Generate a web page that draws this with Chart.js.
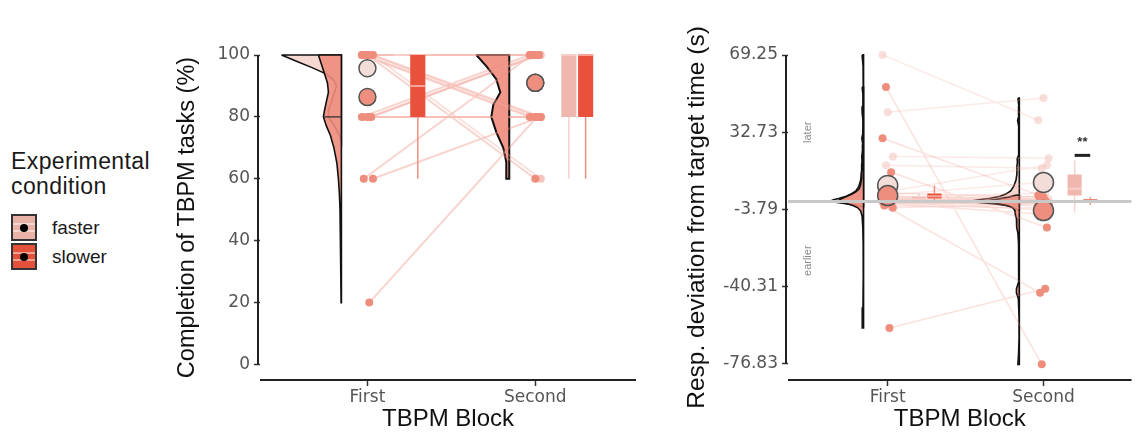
<!DOCTYPE html>
<html>
<head>
<meta charset="utf-8">
<title>TBPM raincloud</title>
<script src="https://cdn.jsdelivr.net/npm/chart.js@4.4.1/dist/chart.umd.min.js"></script>
<style>
  body { margin: 0; background: #fff; font-family: "Liberation Sans", Arial, sans-serif; }
  #page { position: relative; width: 1143px; height: 434px; overflow: hidden; }
  #compBox { position: absolute; left: 170px; top: 0; }
  #devBox { position: absolute; left: 680px; top: 0; }
  #legend { position: absolute; left: 11px; top: 149px; color: #1a1a1a; }
  #legend .title { font-size: 23px; letter-spacing: 0.4px; line-height: 25px; margin-bottom: 14px; }
  #legend .row { display: flex; align-items: center; height: 29px; font-size: 19px; }
  #legend .key { position: relative; box-sizing: border-box; width: 26px; height: 27px; border: 2px solid #333; margin-right: 15px; }
  #legend .key.faster { background-color: #e9b2a8;
      background-image: linear-gradient(to bottom, transparent 30%, #f5d5cf 30%, #f5d5cf 38%, transparent 38%, transparent 62%, #f5d5cf 62%, #f5d5cf 70%, transparent 70%); }
  #legend .key.slower { background-color: #e5503b;
      background-image: linear-gradient(to bottom, transparent 30%, #f1a194 30%, #f1a194 38%, transparent 38%, transparent 62%, #f1a194 62%, #f1a194 70%, transparent 70%); }
  #legend .key::after { content: ""; position: absolute; left: 50%; top: 50%; width: 8px; height: 8px; margin: -4px 0 0 -4px; border-radius: 50%; background: #000; }
</style>
</head>
<body>
<div id="page">
  <div id="legend">
    <div class="title">Experimental<br>condition</div>
    <div class="row"><span class="key faster"></span>faster</div>
    <div class="row"><span class="key slower"></span>slower</div>
  </div>
  <div id="compBox"><canvas id="compChart" width="480" height="434"></canvas></div>
  <div id="devBox"><canvas id="devChart" width="463" height="434"></canvas></div>
</div>
<script>
// ---------------- data ----------------
const blocks = ['First', 'Second'];
const compTicks = [0, 20, 40, 60, 80, 100];
const devTicks = [-76.83, -40.31, -3.79, 32.73, 69.25];

// Left panel: completion of TBPM tasks (%), one value per participant
const compFasterFirst  = [100, 100, 100, 100, 100, 100, 100, 100, 100, 100, 100, 80, 80, 80];
const compFasterSecond = [100, 100, 100, 80, 100, 100, 80, 100, 100, 60, 100, 100, 80, 100];
const compSlowerFirst  = [100, 100, 100, 100, 100, 100, 100, 100, 80, 80, 80, 60, 60, 20];
const compSlowerSecond = [100, 80, 100, 60, 100, 80, 100, 100, 100, 100, 80, 100, 80, 80];

// group means (big circles)
const compMeanFaster = [95.7, 91.0];
const compMeanSlower = [86.4, 91.0];

// boxplot statistics per block
const compLoFaster  = [100, 60];
const compQ1Faster  = [100, 80];
const compMedFaster = [100, 100];
const compQ3Faster  = [100, 100];
const compHiFaster  = [100, 100];
const compLoSlower  = [60, 60];
const compQ1Slower  = [80, 80];
const compMedSlower = [90, 100];
const compQ3Slower  = [100, 100];
const compHiSlower  = [100, 100];

// half violins: levels and estimated densities
const compVioLevelsF1 = [100, 98, 96, 94, 92, 90, 88, 86, 84, 82, 80, 78, 76, 74, 72];
const compVioDensF1   = [6.0, 4.5, 3.0, 1.6, 0.8, 0.5, 0.7, 0.9, 1.1, 1.3, 1.3, 0.9, 0.5, 0.2, 0];
const compVioLevelsS1 = [100, 97, 94, 91, 88, 85, 82, 80, 77, 74, 70, 65, 60, 55, 50, 40, 30, 20];
const compVioDensS1   = [2.3, 2.0, 1.7, 1.4, 1.3, 1.5, 1.7, 1.8, 1.5, 1.1, 0.75, 0.45, 0.3, 0.2, 0.14, 0.08, 0.05, 0.03];
const compVioLevelsS2 = [100, 96.4, 92.2, 87.9, 83.9, 80, 75.1, 70, 65.4, 60.3, 60];
const compVioDensS2   = [3.3, 2.3, 1.3, 0.9, 1.6, 1.8, 1.3, 0.6, 0.3, 0.3, 0.3];
const compMedianLine  = [80];

// Right panel: response deviation from target time (s)
const devFasterFirst  = [69.3, 42.2, 21.3, 17.1, 5.0, 3.0, 2.0, 1.5, 1.0, 0.6, 0.2, -0.4, -1.0, -2.0];
const devFasterSecond = [38.4, 48.9, 20.4, 15.7, 17.1, 9.0, 4.0, 2.5, 1.5, 1.0, 0.5, 0.0, -1.0, -3.0];
const devSlowerFirst  = [54.1, 29.9, 13.8, 4.0, 2.5, 1.5, 1.0, 0.5, 0.0, -0.5, -1.0, -1.9, -3.0, -59.8];
const devSlowerSecond = [-77.0, 3.0, -12.3, 2.0, 1.0, -1.5, 0.5, 0.0, -2.0, -4.0, -6.0, -43.2, -1.0, -41.3];

const devMeanFaster = [7.6, 9.0];
const devMeanSlower = [2.8, -4.3];

const devLoFaster  = [-1.0, -5.2];
const devQ1Faster  = [0.2, 2.85];
const devMedFaster = [1.0, 6.0];
const devQ3Faster  = [2.0, 12.8];
const devHiFaster  = [4.0, 19.4];
const devLoSlower  = [0.0, -1.5];
const devQ1Slower  = [1.4, -0.3];
const devMedSlower = [2.5, 0.4];
const devQ3Slower  = [3.8, 1.0];
const devHiSlower  = [7.6, 2.0];

const devVioLevelsF1 = [69.3, 64, 58, 50, 45, 42.2, 38, 30, 24, 21.3, 19, 17.1, 14, 10, 7, 5, 3.5, 2.5, 1.5, 0.8, 0.3, -0.3, -1, -1.6, -2.5];
const devVioDensF1   = [0.15, 0.05, 0.03, 0.03, 0.06, 0.15, 0.05, 0.03, 0.08, 0.18, 0.15, 0.2, 0.2, 0.3, 0.5, 0.8, 1.3, 1.8, 2.5, 3.1, 3.4, 2.9, 1.8, 0.9, 0.2];
const devVioLevelsS1 = [54.1, 50, 40, 32, 29.9, 27, 20, 15, 13.8, 11, 8, 6, 4.5, 3.5, 2.5, 1.5, 0.8, 0, -0.8, -1.9, -3, -4.5, -7, -12, -20, -35, -50, -56, -59.8];
const devVioDensS1   = [0.15, 0.05, 0.03, 0.08, 0.18, 0.08, 0.08, 0.15, 0.22, 0.2, 0.3, 0.45, 0.8, 1.2, 1.7, 2.2, 2.5, 2.4, 1.9, 1.1, 0.6, 0.3, 0.15, 0.08, 0.04, 0.03, 0.06, 0.12, 0.15];
const devVioLevelsF2 = [48.9, 45, 40, 38.4, 35, 28, 22, 20.4, 18, 17.1, 15.7, 13, 10, 7, 5, 3.5, 2.5, 1.5, 0.8, 0.2, -0.5, -1.2, -2, -3, -4];
const devVioDensF2   = [0.15, 0.05, 0.08, 0.18, 0.05, 0.04, 0.1, 0.22, 0.2, 0.25, 0.25, 0.25, 0.35, 0.6, 0.9, 1.4, 2.0, 3.0, 4.2, 5.0, 4.2, 2.5, 1.2, 0.5, 0.15];
const devVioLevelsS2 = [3.0, 2.0, 1.0, 0.4, 0, -0.6, -1.2, -2, -3, -4, -5, -6.5, -8, -10, -12.3, -15, -20, -30, -38, -41.3, -43.2, -46, -55, -65, -72, -77];
const devVioDensS2   = [0.3, 1.2, 2.4, 3.2, 3.4, 3.0, 2.0, 1.2, 0.7, 0.5, 0.45, 0.4, 0.3, 0.25, 0.3, 0.15, 0.08, 0.04, 0.1, 0.3, 0.3, 0.1, 0.03, 0.03, 0.08, 0.15];

const devRefValue = 0;
const devSigPair = [2.2, 2.3];
const devSigLevel = 21.8;

// ---------------- styles ----------------
Chart.defaults.font.family = '"Liberation Sans", Arial, sans-serif';
const tickFont = { family: '"DejaVu Sans", sans-serif', size: 17 };
const colViolinF = '#f6d8d2';
const colViolinS = 'rgba(238,140,124,0.9)';
const colBoxF = '#f0b7ae';
const colBoxS = '#e8523c';
const colWhiskF = '#f3d3cd';
const colWhiskS = '#ef8f80';
const colDotF = 'rgba(241,178,168,0.75)';
const colDotS = '#ef8d7d';
const colMeanF = '#f3ddd9';
const colMeanS = '#ee8e7e';

const VIO_OFF = -0.155;   // violin baseline, relative to block centre
const BOX_OFF_F = 0.2;
const BOX_OFF_S = 0.3;
const BOX_HW = 0.045;

const jitF = i => ((i * 3) % 7 - 3) * 0.011;
const jitS = i => ((i * 5 + 2) % 7 - 3) * 0.011;

// ---------------- helpers ----------------
function violinShape(base, levels, dens, unit) {
    const pts = levels.map((v, i) => ({ x: base - dens[i] * unit, y: v }));
    pts.push({ x: base, y: levels[levels.length - 1] });
    pts.push({ x: base, y: levels[0] });
    pts.push({ x: pts[0].x, y: levels[0] });
    return pts;
}

function rect(x, q1, q3, hw) {
    return [{ x: x - hw, y: q1 }, { x: x + hw, y: q1 }, { x: x + hw, y: q3 }, { x: x - hw, y: q3 }, { x: x - hw, y: q1 }];
}

function polyDs(points, fillColor, borderColor, borderWidth) {
    return { data: points, showLine: true, fill: 'shape', backgroundColor: fillColor, borderColor: borderColor,
             borderWidth: borderWidth, pointRadius: 0, tension: 0, clip: false };
}

function lineDs(points, color, width) {
    return { data: points, showLine: true, fill: false, borderColor: color, borderWidth: width,
             pointRadius: 0, spanGaps: false, clip: false };
}

function dotDs(points, color, radius, border) {
    return { data: points, showLine: false, backgroundColor: color, borderColor: border || color,
             borderWidth: border ? 1.5 : 0, pointRadius: radius, clip: false };
}

function pairLines(first, second, jit) {
    const pts = [];
    first.forEach((v, i) => {
        pts.push({ x: 1 + jit(i), y: v }, { x: 2 + jit(i), y: second[i] }, { x: 1.5, y: null });
    });
    return pts;
}

function blockDots(first, second, jit) {
    return first.map((v, i) => ({ x: 1 + jit(i), y: v }))
        .concat(second.map((v, i) => ({ x: 2 + jit(i), y: v })));
}

function meanPts(arr) {
    return arr.map((v, i) => ({ x: i + 1, y: v }));
}

// box rectangles, whiskers and median ticks for one group
function boxDatasets(off, lo, q1, med, q3, hi, fill, whisk, medCol) {
    const out = [];
    const wPts = [];
    const mPts = [];
    blocks.forEach((b, i) => {
        const x = i + 1 + off;
        wPts.push({ x, y: lo[i] }, { x, y: q1[i] }, { x, y: null }, { x, y: q3[i] }, { x, y: hi[i] }, { x, y: null });
        mPts.push({ x: x - BOX_HW, y: med[i] }, { x: x + BOX_HW, y: med[i] }, { x, y: null });
        out.push(polyDs(rect(x, q1[i], q3[i], BOX_HW), fill, 'rgba(0,0,0,0)', 1));
    });
    out.unshift(lineDs(mPts, medCol, 2));
    out.push(lineDs(wPts, whisk, 1.5));
    return out;
}

// trimmed axis lines in ggplot style
const axisLines = {
    id: 'axisLines',
    afterDraw(chart, args, opts) {
        const { ctx, chartArea, scales: { x, y } } = chart;
        ctx.save();
        ctx.strokeStyle = '#222';
        ctx.lineWidth = 2;
        ctx.beginPath();
        ctx.moveTo(chartArea.left - 2, y.getPixelForValue(opts.yFrom));
        ctx.lineTo(chartArea.left - 2, y.getPixelForValue(opts.yTo));
        ctx.moveTo(chartArea.left, chartArea.bottom);
        ctx.lineTo(chartArea.right, chartArea.bottom);
        ctx.stroke();
        ctx.restore();
    }
};

function axes(xMax, yMin, yMax, ticks, yTitle, yTitleSize, yWidth, fmt) {
    const grid = { display: true, drawOnChartArea: false, drawTicks: true, tickLength: 6, tickColor: '#333', tickWidth: 1.5 };
    return {
        x: {
            type: 'linear', min: 0.36, max: xMax,
            afterBuildTicks: s => { s.ticks = blocks.map((b, i) => ({ value: i + 1 })); },
            afterFit: s => { s.height = 54; },
            ticks: { callback: v => blocks[Math.round(v) - 1], color: '#555', font: tickFont, padding: 1, autoSkip: false, maxRotation: 0 },
            grid: grid,
            border: { display: false },
            title: { display: true, text: 'TBPM Block', color: '#111', font: { size: 24 }, padding: { top: 0, bottom: 0 } }
        },
        y: {
            type: 'linear', min: yMin, max: yMax,
            afterBuildTicks: s => { s.ticks = ticks.map(v => ({ value: v })); },
            afterFit: s => { s.width = yWidth; },
            ticks: { callback: fmt, color: '#555', font: tickFont, padding: 4 },
            grid: grid,
            border: { display: false },
            title: { display: true, text: yTitle, color: '#111', font: { size: yTitleSize }, padding: { top: 3, bottom: 0 } }
        }
    };
}

// ---------------- left panel ----------------
const COMP_UNIT = 0.0595;
const compDatasets = [
    dotDs(meanPts(compMeanSlower), colMeanS, 8.5, '#555'),
    dotDs(meanPts(compMeanFaster), colMeanF, 8.5, '#555'),
    dotDs(blockDots(compSlowerFirst, compSlowerSecond, jitS), colDotS, 4),
    dotDs(blockDots(compFasterFirst, compFasterSecond, jitF), colDotF, 4),
    ...boxDatasets(BOX_OFF_S, compLoSlower, compQ1Slower, compMedSlower, compQ3Slower, compHiSlower, colBoxS, colWhiskS, '#f6a597'),
    ...boxDatasets(BOX_OFF_F, compLoFaster, compQ1Faster, compMedFaster, compQ3Faster, compHiFaster, colBoxF, colWhiskF, '#f6cfc8'),
    lineDs(pairLines(compSlowerFirst, compSlowerSecond, jitS), 'rgba(238,140,124,0.38)', 2),
    lineDs(pairLines(compFasterFirst, compFasterSecond, jitF), 'rgba(240,170,160,0.35)', 2),
    lineDs([{ x: 1 + VIO_OFF - 1.8 * COMP_UNIT, y: compMedianLine[0] }, { x: 1 + VIO_OFF, y: compMedianLine[0] }], '#333', 1.3),
    polyDs(violinShape(2 + VIO_OFF, compVioLevelsS2, compVioDensS2, COMP_UNIT), colViolinS, '#111', 2),
    polyDs(violinShape(1 + VIO_OFF, compVioLevelsS1, compVioDensS1, COMP_UNIT), colViolinS, '#111', 1.6),
    polyDs(violinShape(1 + VIO_OFF, compVioLevelsF1, compVioDensF1, COMP_UNIT), colViolinF, '#111', 1.6)
];

new Chart(document.getElementById('compChart'), {
    type: 'scatter',
    data: { datasets: compDatasets },
    plugins: [axisLines],
    options: {
        responsive: false,
        animation: false,
        layout: { padding: { top: 55, right: 14, left: 0, bottom: 0 } },
        scales: axes(2.6, -5, 100, compTicks, 'Completion of TBPM tasks (%)', 23.5, 90, v => v),
        plugins: {
            legend: { display: false },
            tooltip: { enabled: false },
            axisLines: { yFrom: 100, yTo: 0 }
        }
    }
});

// ---------------- right panel ----------------
const DEV_UNIT = 0.062;
const devNotes = {
    id: 'devNotes',
    afterDatasetsDraw(chart) {
        const { ctx, chartArea: a, scales: { x, y } } = chart;
        ctx.save();
        const y0 = y.getPixelForValue(devRefValue);
        ctx.strokeStyle = '#c9c9c9';
        ctx.lineWidth = 3;
        ctx.beginPath();
        ctx.moveTo(a.left, y0);
        ctx.lineTo(a.right, y0);
        ctx.stroke();

        ctx.fillStyle = '#8c8c8c';
        ctx.font = '11px "Liberation Sans", Arial, sans-serif';
        ctx.textAlign = 'center';
        ctx.textBaseline = 'middle';
        [['later', 32.73], ['earlier', -28]].forEach(([t, v]) => {
            ctx.save();
            ctx.translate(x.getPixelForValue(0.485), y.getPixelForValue(v));
            ctx.rotate(-Math.PI / 2);
            ctx.fillText(t, 0, 0);
            ctx.restore();
        });

        ctx.fillStyle = '#333';
        ctx.font = 'bold 13px "Liberation Sans", Arial, sans-serif';
        ctx.fillText('**', x.getPixelForValue((devSigPair[0] + devSigPair[1]) / 2), y.getPixelForValue(devSigLevel + 6));
        ctx.restore();
    }
};

const devDatasets = [
    lineDs(devSigPair.map(v => ({ x: v, y: devSigLevel })), '#222', 3),
    dotDs(meanPts(devMeanSlower), colMeanS, 10, '#555'),
    dotDs(meanPts(devMeanFaster), colMeanF, 10, '#555'),
    dotDs(blockDots(devSlowerFirst, devSlowerSecond, jitS), colDotS, 4),
    dotDs(blockDots(devFasterFirst, devFasterSecond, jitF), 'rgba(243,200,194,0.6)', 4),
    ...boxDatasets(BOX_OFF_S, devLoSlower, devQ1Slower, devMedSlower, devQ3Slower, devHiSlower, colBoxS, colWhiskS, '#f6a597'),
    ...boxDatasets(BOX_OFF_F, devLoFaster, devQ1Faster, devMedFaster, devQ3Faster, devHiFaster, colBoxF, colWhiskF, '#f6cfc8'),
    lineDs(pairLines(devSlowerFirst, devSlowerSecond, jitS), 'rgba(238,140,124,0.25)', 1.5),
    lineDs(pairLines(devFasterFirst, devFasterSecond, jitF), 'rgba(240,170,160,0.25)', 1.5),
    polyDs(violinShape(2 + VIO_OFF, devVioLevelsS2, devVioDensS2, DEV_UNIT), colViolinS, '#111', 1.6),
    polyDs(violinShape(2 + VIO_OFF, devVioLevelsF2, devVioDensF2, DEV_UNIT), colViolinF, '#111', 1.6),
    polyDs(violinShape(1 + VIO_OFF, devVioLevelsS1, devVioDensS1, DEV_UNIT), colViolinS, '#111', 1.6),
    polyDs(violinShape(1 + VIO_OFF, devVioLevelsF1, devVioDensF1, DEV_UNIT), colViolinF, '#111', 1.6)
];

new Chart(document.getElementById('devChart'), {
    type: 'scatter',
    data: { datasets: devDatasets },
    plugins: [axisLines, devNotes],
    options: {
        responsive: false,
        animation: false,
        layout: { padding: { top: 55, right: 0, left: 0, bottom: 0 } },
        scales: axes(2.565, -84.4, 69.25, devTicks, 'Resp. deviation from target time (s)', 24.5, 108, v => Number(v).toFixed(2)),
        plugins: {
            legend: { display: false },
            tooltip: { enabled: false },
            axisLines: { yFrom: 69.25, yTo: -76.83 }
        }
    }
});
</script>
</body>
</html>
